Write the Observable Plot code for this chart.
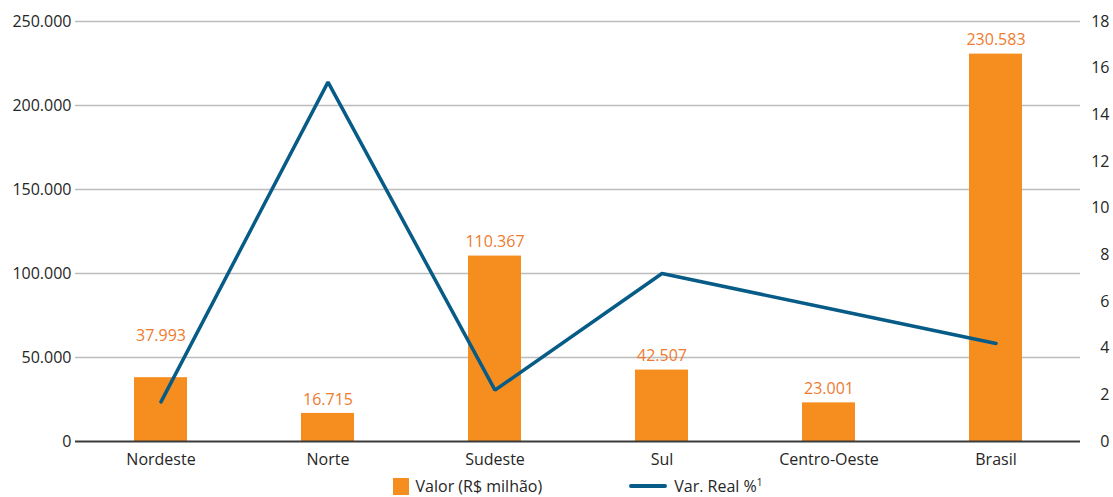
<!DOCTYPE html>
<html>
<head>
<meta charset="utf-8">
<script src="https://cdn.jsdelivr.net/npm/d3@7"></script>
<script src="https://cdn.jsdelivr.net/npm/@observablehq/plot@0.6"></script>
<style>
  html, body { margin: 0; padding: 0; background: #fff; }
  body { width: 1113px; height: 497px; overflow: hidden; font-family: "Open Sans", sans-serif; }
  #legend { margin-left: 75px; width: 1005px; height: 22px; display: flex; justify-content: center; align-items: center; font-size: 16px; color: #262626; }
  .item { display: flex; align-items: center; }
  .sw { width: 16px; height: 17px; background: #f68e1f; margin-right: 7px; }
  .ln { width: 38px; height: 4px; background: #075b87; border-radius: 2px; margin-right: 7px; margin-left: 87px; }
  sup { font-size: 10px; vertical-align: 6px; }
</style>
</head>
<body>
<div id="chart"></div>
<div id="legend">
  <div class="item"><div class="sw"></div><span>Valor (R$ milhão)</span></div>
  <div class="item"><div class="ln"></div><span>Var. Real %<sup>1</sup></span></div>
</div>
<script>
const regioes = ["Nordeste", "Norte", "Sudeste", "Sul", "Centro-Oeste", "Brasil"];
const valores = [37993, 16715, 110367, 42507, 23001, 230583];
const varReal = [1.7, 15.4, 2.2, 7.2, 5.7, 4.2];
const ticksEsq = [0, 50000, 100000, 150000, 200000, 250000];
const ticksDir = [0, 2, 4, 6, 8, 10, 12, 14, 16, 18];

const maxEsq = 250000, maxDir = 18;
const k = maxEsq / maxDir;

const br = d3.formatLocale({decimal: ",", thousands: ".", grouping: [3], currency: ["R$", ""]});
const fmt = br.format(",d");

const data = regioes.map((r, i) => ({regiao: r, valor: valores[i], vr: varReal[i]}));

const chart = Plot.plot({
  width: 1113,
  height: 475,
  marginLeft: 75,
  marginRight: 33,
  marginTop: 21,
  marginBottom: 34,
  style: {fontFamily: "Open Sans, sans-serif", fontSize: "16px", color: "#262626", background: "#fff"},
  x: {domain: regioes, paddingInner: 0.685, paddingOuter: 0.3425, label: null},
  y: {domain: [0, maxEsq], label: null},
  marks: [
    Plot.gridY(ticksEsq.filter(t => t > 0), {stroke: "#bcbcbc", strokeOpacity: 1, strokeWidth: 1.5}),
    Plot.barY(data, {x: "regiao", y: "valor", fill: "#f68e1f"}),
    Plot.ruleY([0], {stroke: "#3a3a3a", strokeWidth: 2}),
    Plot.axisX({tickSize: 0, tickPadding: 12, fontSize: 16, fill: "#262626"}),
    Plot.axisY({ticks: ticksEsq, tickFormat: fmt, tickSize: 0, tickPadding: 4, fontSize: 16, fill: "#262626", label: null}),
    Plot.axisY({anchor: "right", ticks: ticksDir.map(t => t * k), tickFormat: d => String(Math.round(d / k)), tickSize: 0, tickPadding: 29, textAnchor: "end", fontSize: 16, fill: "#262626", label: null}),
    Plot.line(data, {x: "regiao", y: d => d.vr * k, stroke: "#075b87", strokeWidth: 3.5, strokeLinecap: "round", strokeLinejoin: "miter"}),
    Plot.text(data.filter(d => d.regiao !== "Nordeste"), {x: "regiao", y: "valor", text: d => fmt(d.valor), dy: -14, fill: "#ee7b30", fontSize: 16}),
    Plot.text(data.filter(d => d.regiao === "Nordeste"), {x: "regiao", y: "valor", text: d => fmt(d.valor), dy: -42, fill: "#ee7b30", fontSize: 16})
  ]
});
document.getElementById("chart").appendChild(chart);
</script>
</body>
</html>
